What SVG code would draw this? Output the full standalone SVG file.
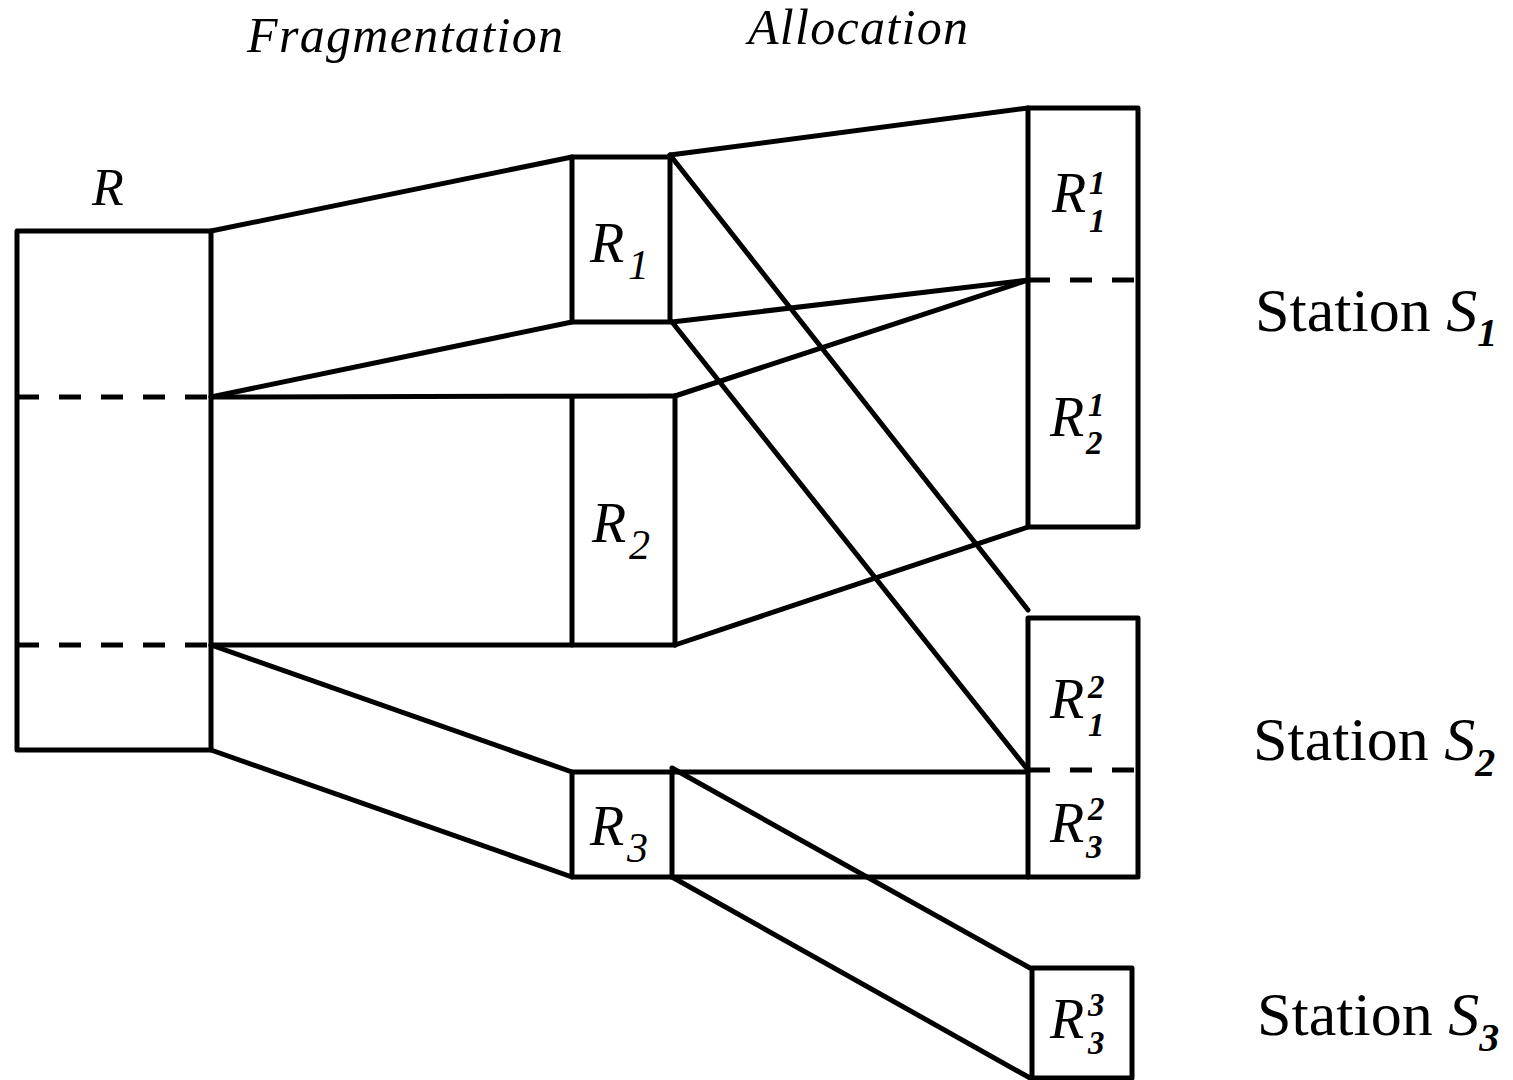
<svg xmlns="http://www.w3.org/2000/svg" width="1513" height="1080" viewBox="0 0 1513 1080">
  <style>
    .box { fill: none; stroke: #000; stroke-width: 5; stroke-linejoin: round; }
    .edge { stroke: #000; stroke-width: 5; stroke-linecap: round; fill: none; }
    .dash { stroke: #000; stroke-width: 5; stroke-dasharray: 22 20; fill: none; }
    text { font-family: 'Liberation Serif', 'Times New Roman', serif; fill: #000; }
    .it { font-style: italic; }
    .big { font-size: 56px; }
    .sub { font-size: 42px; }
    .idx { font-size: 33px; font-weight: bold; }
    .station { font-size: 62px; }
  </style>
  <rect width="1513" height="1080" fill="#fff"/>

  <!-- headings -->
  <text class="it" x="247" y="52" font-size="50" textLength="316" lengthAdjust="spacing">Fragmentation</text>
  <text class="it" x="748" y="44" font-size="50" textLength="220" lengthAdjust="spacing">Allocation</text>

  <!-- connectors -->
  <g id="connectors">
    <!-- fragmentation: R to fragments -->
    <line class="edge" x1="211" y1="231" x2="572" y2="157"/>
    <line class="edge" x1="211" y1="397" x2="572" y2="322"/>
    <line class="edge" x1="211" y1="397" x2="675" y2="396"/>
    <line class="edge" x1="211" y1="645" x2="675" y2="645"/>
    <line class="edge" x1="211" y1="645" x2="572" y2="772"/>
    <line class="edge" x1="211" y1="750" x2="572" y2="877"/>
    <!-- allocation: fragments to stations -->
    <line class="edge" x1="670" y1="155" x2="1028" y2="108"/>
    <line class="edge" x1="670" y1="155" x2="1028" y2="610"/>
    <line class="edge" x1="672" y1="322" x2="1028" y2="280"/>
    <line class="edge" x1="672" y1="322" x2="1028" y2="770"/>
    <line class="edge" x1="675" y1="396" x2="1028" y2="280"/>
    <line class="edge" x1="675" y1="645" x2="1028" y2="527"/>
    <line class="edge" x1="672" y1="772" x2="1028" y2="772"/>
    <line class="edge" x1="672" y1="877" x2="1028" y2="877"/>
    <line class="edge" x1="672" y1="768" x2="1030" y2="968"/>
    <line class="edge" x1="672" y1="877" x2="1030" y2="1078"/>
  </g>

  <!-- relation R -->
  <g id="node-R">
    <rect class="box" x="17" y="231" width="194" height="519"/>
    <line class="dash" x1="17" y1="397" x2="211" y2="397"/>
    <line class="dash" x1="17" y1="645" x2="211" y2="645"/>
    <text class="it" x="92" y="205" font-size="52">R</text>
  </g>

  <!-- fragment R1 -->
  <g id="node-R1">
    <rect class="box" x="572" y="157" width="98" height="165"/>
    <text class="it big" x="590" y="262">R</text>
    <text class="it sub" x="628" y="279">1</text>
  </g>

  <!-- fragment R2 -->
  <g id="node-R2">
    <line class="edge" x1="572" y1="397" x2="572" y2="645"/>
    <line class="edge" x1="675" y1="396" x2="675" y2="645"/>
    <text class="it big" x="592" y="542">R</text>
    <text class="it sub" x="629" y="559">2</text>
  </g>

  <!-- fragment R3 -->
  <g id="node-R3">
    <rect class="box" x="572" y="772" width="100" height="105"/>
    <text class="it big" x="590" y="845">R</text>
    <text class="it sub" x="627" y="862">3</text>
  </g>

  <!-- station S1 -->
  <g id="node-S1">
    <rect class="box" x="1028" y="108" width="110" height="419"/>
    <line class="dash" x1="1028" y1="280" x2="1138" y2="280"/>
    <text class="it big" x="1052" y="212">R</text>
    <text class="it idx" x="1089" y="194">1</text>
    <text class="it idx" x="1089" y="232">1</text>
    <text class="it big" x="1050" y="436">R</text>
    <text class="it idx" x="1088" y="416">1</text>
    <text class="it idx" x="1086" y="454">2</text>
    <text class="station" x="1255" y="331">Station <tspan font-style="italic">S</tspan><tspan font-style="italic" font-weight="bold" font-size="40" y="346">1</tspan></text>
  </g>

  <!-- station S2 -->
  <g id="node-S2">
    <rect class="box" x="1028" y="618" width="110" height="259"/>
    <line class="dash" x1="1028" y1="770" x2="1138" y2="770"/>
    <text class="it big" x="1050" y="718">R</text>
    <text class="it idx" x="1088" y="698">2</text>
    <text class="it idx" x="1088" y="736">1</text>
    <text class="it big" x="1050" y="842">R</text>
    <text class="it idx" x="1088" y="820">2</text>
    <text class="it idx" x="1086" y="858">3</text>
    <text class="station" x="1253" y="760">Station <tspan font-style="italic">S</tspan><tspan font-style="italic" font-weight="bold" font-size="40" y="776">2</tspan></text>
  </g>

  <!-- station S3 -->
  <g id="node-S3">
    <rect class="box" x="1032" y="968" width="100" height="110"/>
    <text class="it big" x="1050" y="1038">R</text>
    <text class="it idx" x="1088" y="1016">3</text>
    <text class="it idx" x="1088" y="1054">3</text>
    <text class="station" x="1257" y="1035">Station <tspan font-style="italic">S</tspan><tspan font-style="italic" font-weight="bold" font-size="40" y="1051">3</tspan></text>
  </g>
</svg>
